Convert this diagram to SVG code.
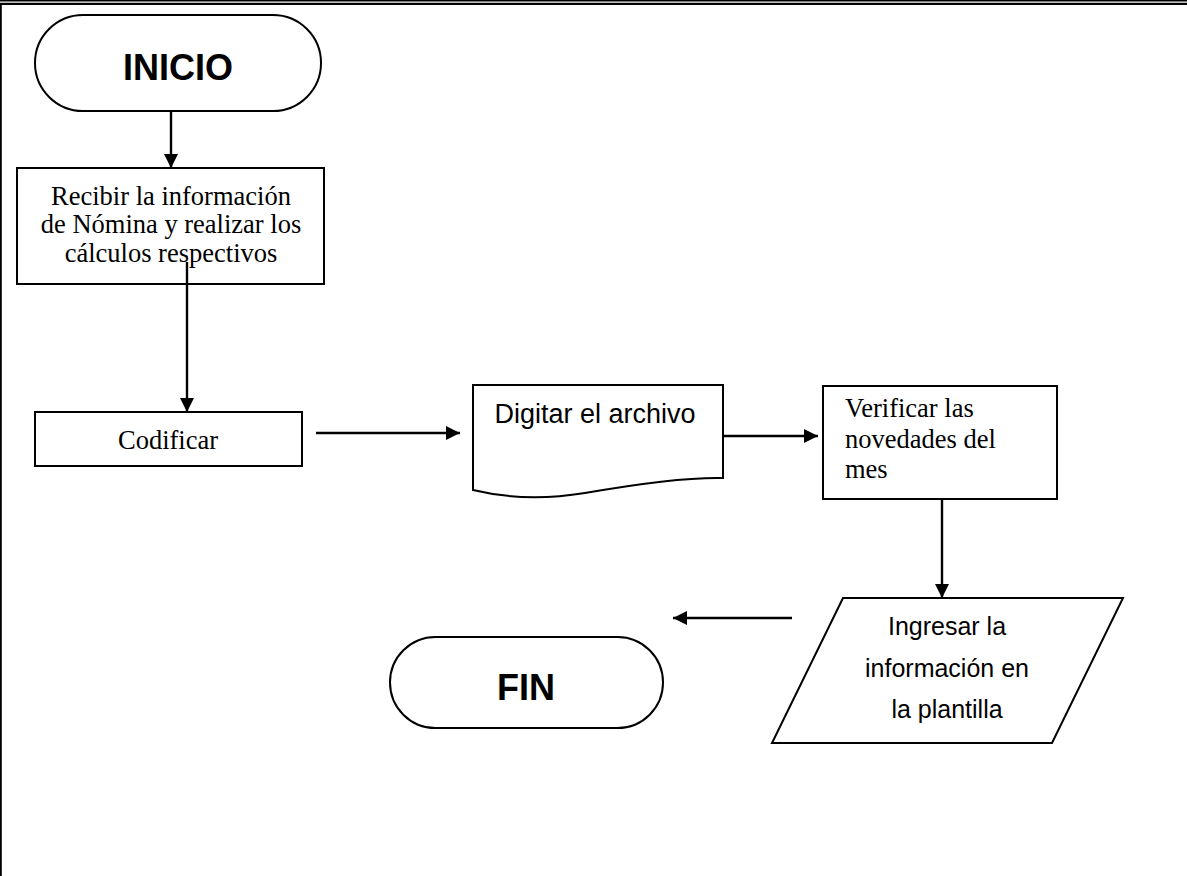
<svg xmlns="http://www.w3.org/2000/svg" width="1187" height="876" viewBox="0 0 1187 876">
<defs>
<marker id="ah" viewBox="0 0 14 14" refX="14" refY="7" markerWidth="14" markerHeight="14" markerUnits="userSpaceOnUse" orient="auto">
<path d="M0,0 L14,7 L0,14 Z" fill="#000"/>
</marker>
<style>
.sh{fill:#fff;stroke:#000;stroke-width:2}
.cn{stroke:#000;stroke-width:2.4;fill:none;marker-end:url(#ah)}
.tb{font-family:"Liberation Sans",Arial,sans-serif;font-weight:bold;font-size:36px;fill:#000;text-anchor:middle}
.ts{font-family:"Liberation Serif","Times New Roman",serif;font-size:26.5px;fill:#000}
.tc{font-family:"Liberation Sans",Arial,sans-serif;fill:#000;text-anchor:middle}
</style>
</defs>
<rect width="1187" height="876" fill="#fff"/>
<g id="frame">
<line x1="0" y1="0.7" x2="1187" y2="0.7" stroke="#000" stroke-width="1.4"/>
<line x1="0" y1="3.8" x2="1187" y2="3.8" stroke="#000" stroke-width="2.2"/>
<line x1="0.9" y1="4" x2="0.9" y2="876" stroke="#000" stroke-width="1.8"/>
</g>
<g id="connectors">
<line class="cn" x1="171" y1="111" x2="171" y2="168"/>
<line class="cn" x1="187" y1="262" x2="187" y2="412"/>
<line class="cn" x1="316" y1="433" x2="460" y2="433"/>
<line class="cn" x1="723" y1="436" x2="818" y2="436"/>
<line class="cn" x1="942" y1="499" x2="942" y2="598"/>
<line class="cn" x1="792" y1="618" x2="673" y2="618"/>
</g>
<g id="inicio">
<rect class="sh" x="35" y="15" width="286" height="96" rx="48" ry="48"/>
<text class="tb" x="178" y="80">INICIO</text>
</g>
<g id="recibir">
<rect class="sh" x="17" y="168" width="307" height="116"/>
<text class="ts" text-anchor="middle"><tspan x="171" y="205">Recibir la información</tspan><tspan x="171" y="233">de Nómina y realizar los</tspan><tspan x="171" y="262">cálculos respectivos</tspan></text>
</g>
<g id="recibir-line-over">
<line x1="187" y1="262" x2="187" y2="284" stroke="#000" stroke-width="2.4"/>
</g>
<g id="codificar">
<rect class="sh" x="35" y="412" width="267" height="54"/>
<text class="ts" text-anchor="middle" x="168" y="449">Codificar</text>
</g>
<g id="digitar">
<path class="sh" d="M473,385 H723 V478 C680,477 625,486 585,493 C548,499 510,499 473,490 Z"/>
<text class="tc" font-size="27" x="595" y="423">Digitar el archivo</text>
</g>
<g id="verificar">
<rect class="sh" x="823" y="386" width="234" height="113"/>
<text class="ts"><tspan x="845" y="417">Verificar las</tspan><tspan x="845" y="448">novedades del</tspan><tspan x="845" y="478">mes</tspan></text>
</g>
<g id="ingresar">
<polygon class="sh" points="843,598 1123,598 1052,743 772,743"/>
<text class="tc" font-size="25"><tspan x="947" y="635">Ingresar la</tspan><tspan x="947" y="677">información en</tspan><tspan x="947" y="718">la plantilla</tspan></text>
</g>
<g id="fin">
<rect class="sh" x="390" y="637" width="273" height="91" rx="45.5" ry="45.5"/>
<text class="tb" x="526" y="700">FIN</text>
</g>
</svg>
